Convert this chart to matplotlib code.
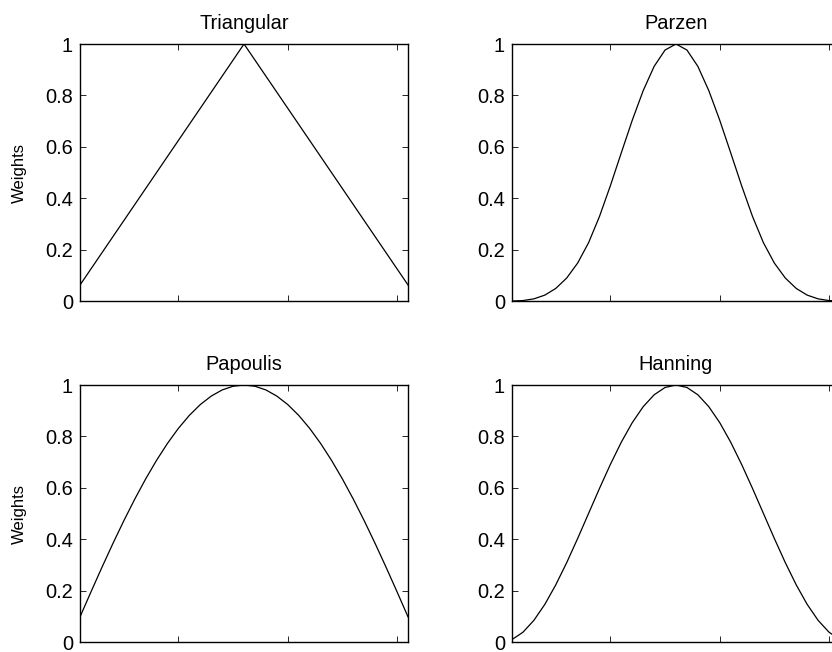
import numpy as np
import matplotlib
matplotlib.use("Agg")
import matplotlib.pyplot as plt

plt.rcParams['font.family'] = ['Liberation Sans', 'DejaVu Sans']

# lag index (window of 31 points)
lags = np.arange(1, 32)

# weights, one half then mirrored
tri_half = [0.0625, 0.125, 0.1875, 0.25, 0.3125, 0.375, 0.4375, 0.5,
            0.5625, 0.625, 0.6875, 0.75, 0.8125, 0.875, 0.9375, 1.0]
parzen_half = [0.0001, 0.0018, 0.0084, 0.0230, 0.0489, 0.0894, 0.1475, 0.2266,
               0.3289, 0.4490, 0.5771, 0.7035, 0.8187, 0.9130, 0.9766, 1.0]
papoulis_half = [0.0980, 0.1951, 0.2903, 0.3827, 0.4714, 0.5556, 0.6344, 0.7071,
                 0.7730, 0.8315, 0.8819, 0.9239, 0.9569, 0.9808, 0.9952, 1.0]
hanning_half = [0.0096, 0.0381, 0.0843, 0.1464, 0.2222, 0.3087, 0.4025, 0.5,
                0.5975, 0.6913, 0.7778, 0.8536, 0.9157, 0.9619, 0.9904, 1.0]

titles = ["Triangular", "Parzen", "Papoulis", "Hanning"]
halves = [tri_half, parzen_half, papoulis_half, hanning_half]
yticks = [0, 0.2, 0.4, 0.6, 0.8, 1.0]
ytick_labels = ["0", "0.2", "0.4", "0.6", "0.8", "1"]
xticks = [10, 20, 30]

fig = plt.figure(figsize=(8.32, 6.52), dpi=100)

# axes boxes in figure fractions (right column runs past the edge)
boxes = [
    [0.0962, 0.5383, 0.3942, 0.3942],
    [0.6154, 0.5383, 0.3942, 0.3942],
    [0.0962, 0.0153, 0.3942, 0.3942],
    [0.6154, 0.0153, 0.3942, 0.3942],
]

for i in range(4):
    ax = fig.add_axes(boxes[i])
    half = halves[i]
    w = np.array(half + half[-2::-1])
    ax.plot(lags, w, color='black', lw=0.9)
    ax.set_xlim(1, 31)
    ax.set_ylim(0, 1)
    ax.set_xticks(xticks)
    ax.set_xticklabels([])
    ax.set_yticks(yticks)
    ax.set_yticklabels(ytick_labels, fontsize=14.4)
    ax.tick_params(direction='in', top=True, right=True, length=4, width=0.6, pad=5)
    for s in ax.spines.values():
        s.set_linewidth(1.0)
    ax.set_title(titles[i], fontsize=14.4, pad=11)
    if i % 2 == 0:
        ax.set_ylabel("Weights", fontsize=12, labelpad=13)

fig.savefig("out.png", dpi=100)
